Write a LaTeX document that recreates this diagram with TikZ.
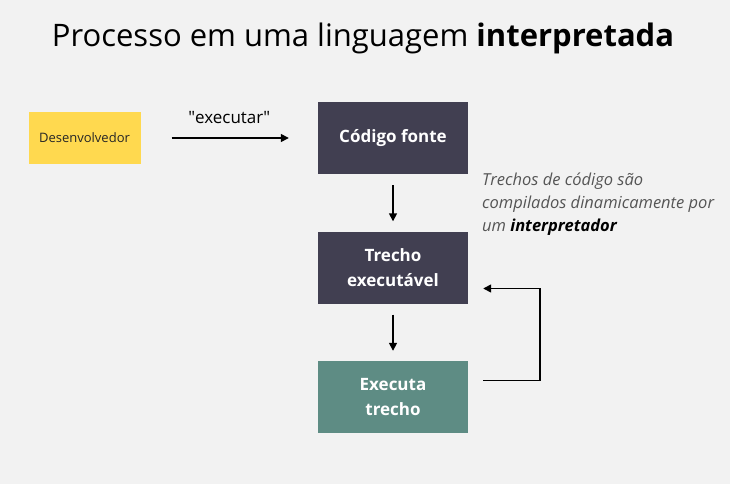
\documentclass[tikz,border=0pt]{standalone}
\usepackage{fontspec}
\setmainfont{Open Sans}
\usetikzlibrary{arrows.meta}
\definecolor{fundo}{HTML}{F2F2F2}
\definecolor{amarelo}{HTML}{FFD94F}
\definecolor{escuro}{HTML}{413F51}
\definecolor{verde}{HTML}{5E8C84}
\definecolor{cinza}{HTML}{555555}

\begin{document}
\begin{tikzpicture}[x=1pt,y=-1pt,
        caixa/.style={minimum width=150pt,minimum height=72pt,inner sep=0pt,
            text=white,align=center,font=\fontsize{17}{25}\selectfont\bfseries},
        seta/.style={-{Triangle[length=8pt,width=8pt]},line width=1.5pt}]
        \fill[fundo] (0,0) rectangle (730,484);
        \node (titulo) at (363,38) {\fontsize{31}{38}\selectfont Processo em uma linguagem \textbf{interpretada}};
        \node[fill=amarelo,minimum width=112pt,minimum height=51pt,inner sep=0pt,
            text=black!85,font=\fontsize{13}{15}\selectfont] (desenv) at (84.5,138) {Desenvolvedor};
        \node[caixa,fill=escuro] (codigo) at (393,138) {Código fonte};
        \node[caixa,fill=escuro] (trecho) at (393,267.5) {Trecho\\executável};
        \node[caixa,fill=verde] (executa) at (393,397) {Executa\\trecho};
        \node[anchor=west,align=left,inner sep=0pt,text=cinza,
            font=\fontsize{16.5}{23}\selectfont\itshape] (nota) at (482,204)
            {Trechos de código são\\compilados dinamicamente por\\um \textcolor{black}{\bfseries interpretador}};
        % conexoes
        \draw[seta,shorten <=31pt,shorten >=29pt] (desenv) -- (codigo)
            node[midway,above=14pt,inner sep=0pt,font=\fontsize{17}{20}\selectfont] (rotulo) {\textquotedbl executar\textquotedbl};
        \foreach \a/\b in {codigo/trecho,trecho/executa} {
            \draw[seta,shorten <=11pt,shorten >=10pt] (\a) -- (\b);
        }
        \draw[seta] ([xshift=15pt,yshift=16.5pt]executa.east) -- ++(57,0)
            |- ([xshift=15pt,yshift=-21pt]trecho.east);
\end{tikzpicture}
\end{document}
